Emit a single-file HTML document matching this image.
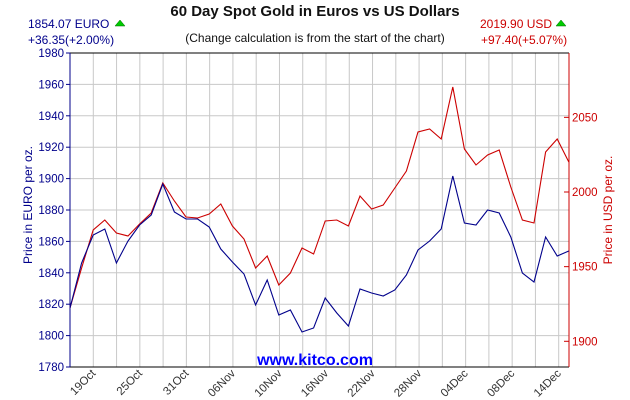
<!DOCTYPE html>
<html><head><meta charset="utf-8"><style>
body{margin:0;background:#fff;}
svg{display:block;font-family:"Liberation Sans",sans-serif;}
</style></head><body>
<svg width="630" height="400" viewBox="0 0 630 400">
<rect width="630" height="400" fill="#fff"/>
<text x="315" y="16" text-anchor="middle" font-size="15" font-weight="bold" fill="#111">60 Day Spot Gold in Euros vs US Dollars</text>
<text x="315" y="42" text-anchor="middle" font-size="12" fill="#111">(Change calculation is from the start of the chart)</text>
<text x="28" y="28" font-size="12" fill="#00008b">1854.07 EURO</text>
<path d="M115 26 l5 -6 l5 6z" fill="#0c0" stroke="#060" stroke-width=".5"/>
<text x="28" y="44" font-size="12" fill="#00008b">+36.35(+2.00%)</text>
<text x="480" y="28" font-size="12" fill="#c00">2019.90 USD</text>
<path d="M556 26 l5 -6 l5 6z" fill="#0c0" stroke="#060" stroke-width=".5"/>
<text x="481" y="44" font-size="12" fill="#c00">+97.40(+5.07%)</text>
<g id="g"></g>
<text x="315" y="365" text-anchor="middle" font-size="16" font-weight="bold" fill="#00f">www.kitco.com</text>
<text transform="translate(32,205) rotate(-90)" text-anchor="middle" font-size="12" fill="#00008b">Price in EURO per oz.</text>
<text transform="translate(612,210) rotate(-90)" text-anchor="middle" font-size="12" fill="#c00">Price in USD per oz.</text>
</svg>
<script>
var ns="http://www.w3.org/2000/svg",g=document.getElementById("g");
function el(t,a,txt){var e=document.createElementNS(ns,t);for(var k in a)e.setAttribute(k,a[k]);if(txt)e.textContent=txt;g.appendChild(e);return e;}
for(var i=0;i<21;i++){var x=93.3+23.27*i;el("line",{x1:x,y1:53,x2:x,y2:367,stroke:"#c8c8c8"});}
for(var v=1780;v<=1980;v+=20){var y=367-(v-1780)*1.57;el("line",{x1:70,y1:y,x2:569,y2:y,stroke:"#c8c8c8"});
el("line",{x1:66,y1:y,x2:70,y2:y,stroke:"#00008b"});el("text",{x:64,y:y+4,"text-anchor":"end","font-size":"11.5",fill:"#00008b"},""+v);}
[1900,1950,2000,2050].forEach(function(v){var y=192-(v-2000)*1.493;el("line",{x1:564,y1:y,x2:569,y2:y,stroke:"#c00"});el("text",{x:572,y:y+4,"font-size":"11.5",fill:"#c00"},""+v);});
el("line",{x1:70,y1:53,x2:569,y2:53,stroke:"#000"});
el("line",{x1:70,y1:367,x2:569,y2:367,stroke:"#000"});
el("line",{x1:70,y1:53,x2:70,y2:367,stroke:"#00008b"});
el("line",{x1:569,y1:53,x2:569,y2:367,stroke:"#c00"});
["19Oct","25Oct","31Oct","06Nov","10Nov","16Nov","22Nov","28Nov","04Dec","08Dec","14Dec"].forEach(function(l,i){var x=93.3+23.27*2*i+3;
el("text",{transform:"translate("+x+",374) rotate(-45)","text-anchor":"end","font-size":"11.5",fill:"#333"},l);});
var b=[308,263,235,229,263,241,225,215,184,212,219,219,227,249,262,274,305,280,315,310,332,328,298,313,326,289,293,296,290,275,250,241,229,176,223,225,210,213,237,273,282,237,256,251];
var r=[308,268,230,220,233,236,224,213,183,201,217,218,214,204,226,239,268,256,285,273,248,254,221,220,226,196,209,205,188,171,132,129,139,87,149,165,155,150,187,220,223,152,139,162];
function pts(a){return a.map(function(y,i){return (70+11.6*i).toFixed(1)+","+y;}).join(" ");}
el("polyline",{points:pts(r),fill:"none",stroke:"#c00","stroke-width":"1.1"});
el("polyline",{points:pts(b),fill:"none",stroke:"#00008b","stroke-width":"1.1"});
</script>
</body></html>
